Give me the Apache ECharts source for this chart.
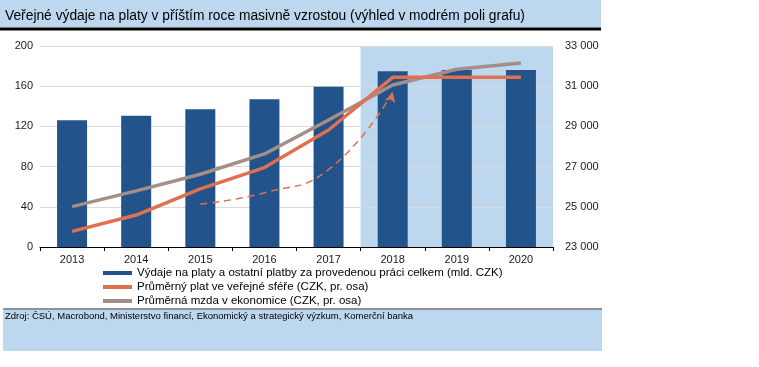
<!DOCTYPE html>
<html><head><meta charset="utf-8">
<script src="https://cdn.jsdelivr.net/npm/echarts@6/dist/echarts.min.js"></script>
<style>html,body{margin:0;padding:0;background:#fff}#c{width:759px;height:367px}</style>
</head><body><div id="c"></div>
<script>
var categories = ['2013','2014','2015','2016','2017','2018','2019','2020'];
var spending = [126, 130.5, 137, 147, 159.5, 175, 176, 176];
var publicWage = [23780, 24590, 25890, 26950, 28820, 31440, 31440, 31440];
var avgWage = [25010, 25790, 26620, 27630, 29320, 31060, 31840, 32150];
var arrowPath = [null, null, 25140, 25700, 26850, 30700];
var leftTicks = {min: 0, max: 200, interval: 40};
var rightTicks = {min: 23000, max: 33000, interval: 2000};
var forecastFrom = 5, forecastTo = 8;
var names = ['Výdaje na platy a ostatní platby za provedenou práci celkem (mld. CZK)',
             'Průměrný plat ve veřejné sféře (CZK, pr. osa)',
             'Průměrná mzda v ekonomice (CZK, pr. osa)'];
var title = 'Veřejné výdaje na platy v příštím roce masivně vzrostou (výhled v modrém poli grafu)';
var source = 'Zdroj: ČSÚ, Macrobond, Ministerstvo financí, Ekonomický a strategický výzkum, Komerční banka';

var FONT = '"Liberation Sans", Arial, sans-serif';
var chart = echarts.init(document.getElementById('c'), null, {renderer: 'canvas'});
var arrowData = arrowPath.map(function (v, i) {
  if (i === arrowPath.length - 1) return {value: v, symbol: 'arrow', symbolSize: [8, 10], symbolRotate: -15};
  return v;
});
chart.setOption({
  animation: false,
  textStyle: {fontFamily: FONT},
  graphic: [
    {type: 'rect', shape: {x: 0, y: 0, width: 601, height: 27.5}, style: {fill: '#bdd7ee'}, z: -10},
    {type: 'rect', shape: {x: 0, y: 27.5, width: 601, height: 3}, style: {fill: '#000'}, z: -10},
    {type: 'text', left: 5, top: 9, style: {text: title, font: '13.8px ' + FONT, fill: '#000'}},
    {type: 'rect', shape: {x: 3, y: 308, width: 599, height: 2}, style: {fill: '#8c8f99'}, z: -10},
    {type: 'rect', shape: {x: 3, y: 310, width: 599, height: 41}, style: {fill: '#bdd7ee'}, z: -10},
    {type: 'text', left: 5, top: 311.5, style: {text: source, font: '9.5px ' + FONT, fill: '#000'}}
  ],
  grid: {left: 40, right: 206, top: 46, bottom: 120, containLabel: false},
  legend: {
    orient: 'vertical', left: 103, top: 267, itemGap: 2, itemWidth: 29, itemHeight: 4,
    icon: 'rect', data: names, padding: 0,
    textStyle: {fontSize: 11.5, color: '#000', lineHeight: 11, fontFamily: FONT}
  },
  xAxis: [{
    type: 'category', data: categories,
    axisLine: {lineStyle: {color: '#000', width: 1}},
    axisTick: {show: true, length: 4, lineStyle: {color: '#000'}},
    axisLabel: {fontSize: 11, color: '#1a1a1a', margin: 7}
  }, {
    type: 'value', min: 0, max: categories.length, show: false
  }],
  yAxis: [{
    type: 'value', min: leftTicks.min, max: leftTicks.max, interval: leftTicks.interval,
    axisLine: {show: false}, axisTick: {show: false},
    axisLabel: {fontSize: 11, color: '#1a1a1a', margin: 7},
    splitLine: {lineStyle: {color: '#dadada'}}
  }, {
    type: 'value', min: rightTicks.min, max: rightTicks.max, interval: rightTicks.interval,
    axisLine: {show: false}, axisTick: {show: false}, splitLine: {show: false},
    axisLabel: {fontSize: 11, color: '#1a1a1a', margin: 12,
      formatter: function (v) { return String(v).replace(/\B(?=(\d{3})+(?!\d))/g, ' '); }}
  }],
  series: [
    {type: 'line', xAxisIndex: 1, yAxisIndex: 0, data: [], z: -1, silent: true,
      markArea: {silent: true, z: -1, itemStyle: {color: '#bdd7ee'},
        data: [[{xAxis: forecastFrom}, {xAxis: forecastTo}]]}},
    {name: names[0], type: 'bar', data: spending, barWidth: 30, itemStyle: {color: '#23538b'}, z: 2},
    {name: names[1], type: 'line', yAxisIndex: 1, data: publicWage, symbol: 'none',
      lineStyle: {color: '#e0704f', width: 3.5}, itemStyle: {color: '#e0704f'}, z: 4},
    {name: names[2], type: 'line', yAxisIndex: 1, data: avgWage, symbol: 'none',
      lineStyle: {color: '#a38f87', width: 3.5}, itemStyle: {color: '#a38f87'}, z: 3},
    {type: 'line', yAxisIndex: 1, data: arrowData, symbol: 'none', smooth: 0.5, z: 3,
      lineStyle: {color: '#e0704f', width: 1.5, type: [7, 5]}, itemStyle: {color: '#e0704f'}}
  ]
});
</script></body></html>
